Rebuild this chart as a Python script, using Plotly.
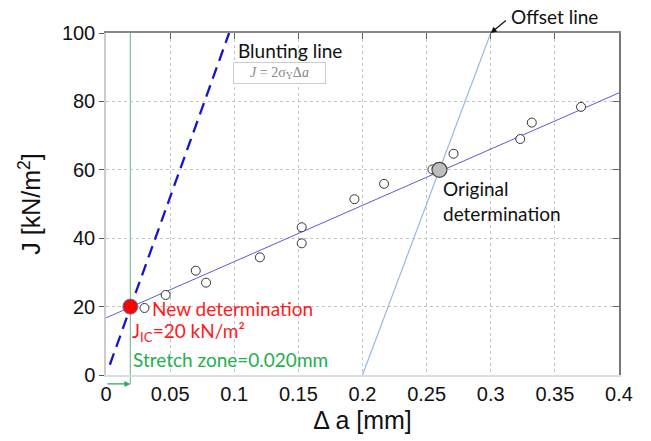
import plotly.graph_objects as go

# ---- data ----
da_pts = [0.030, 0.0465, 0.070, 0.078, 0.120, 0.1526, 0.1526, 0.1937, 0.2168, 0.2545, 0.271, 0.323, 0.332, 0.3704]
j_pts = [19.6, 23.4, 30.5, 27.0, 34.4, 43.2, 38.5, 51.4, 55.9, 60.1, 64.7, 69.0, 73.8, 78.4]

fit_x = [0.0, 0.4]
fit_y = [16.7, 82.5]

blunt_x = [0.003, 0.096]
blunt_y = [3.0, 100.0]

offset_x = [0.2, 0.3]
offset_y = [0.0, 100.0]

stretch_zone = 0.019
new_det = (0.019, 20.0)
orig_det = (0.26, 60.0)

x_ticks = [0, 0.05, 0.1, 0.15, 0.2, 0.25, 0.3, 0.35, 0.4]
x_tick_text = ["0", "0.05", "0.1", "0.15", "0.2", "0.25", "0.3", "0.35", "0.4"]
y_ticks = [0, 20, 40, 60, 80, 100]

FONT_TXT = "Lato, Carlito, 'Open Sans', sans-serif"
FONT_AX = "'Liberation Sans', Arial, sans-serif"

fig = go.Figure()

fig.add_trace(go.Scatter(x=blunt_x, y=blunt_y, mode="lines",
                         line=dict(color="#1515d0", width=2.3, dash="12px,7px"), hoverinfo="skip"))
fig.add_trace(go.Scatter(x=offset_x, y=offset_y, mode="lines",
                         line=dict(color="#95b8e0", width=1.2), hoverinfo="skip"))
fig.add_trace(go.Scatter(x=fit_x, y=fit_y, mode="lines",
                         line=dict(color="#5a5adc", width=1), hoverinfo="skip"))
fig.add_trace(go.Scatter(x=da_pts, y=j_pts, mode="markers",
                         marker=dict(size=9, color="white", line=dict(color="#333333", width=1))))
fig.add_trace(go.Scatter(x=[orig_det[0]], y=[orig_det[1]], mode="markers",
                         marker=dict(size=15, color="#bdbdbd", line=dict(color="#444444", width=1.2))))
fig.add_trace(go.Scatter(x=[new_det[0]], y=[new_det[1]], mode="markers",
                         marker=dict(size=15, color="#ff0000", line=dict(color="#5577aa", width=1))))
# invisible trace to activate the mirror axes
fig.add_trace(go.Scatter(x=[None], y=[None], xaxis="x2", yaxis="y2", showlegend=False))

# stretch zone vertical line
fig.add_shape(type="line", xref="x", yref="paper", x0=stretch_zone, x1=stretch_zone,
              y0=-0.028, y1=1, line=dict(color="#7fbf9a", width=1.2), layer="below")

annotations = [
    dict(x=stretch_zone, y=-0.026, xref="x", yref="paper", ax=0, ay=0, axref="x", ayref="pixel",
         text="", showarrow=True, arrowhead=2, arrowsize=1, arrowwidth=1.2, arrowcolor="#2fa85a"),
    dict(x=0.1015, y=94.9, xref="x", yref="y", text="Blunting line", showarrow=False,
         xanchor="left", yanchor="middle", font=dict(family=FONT_TXT, size=19, color="#111111")),
    dict(x=0.099, y=88.4, xref="x", yref="y",
         text="<i>J</i> = 2σ<sub>Y</sub>Δ<i>a</i>", showarrow=False,
         xanchor="left", yanchor="middle", font=dict(family="'Liberation Serif', serif", size=14, color="#888888"),
         bordercolor="#cccccc", borderwidth=1, borderpad=0, bgcolor="white", width=91, height=20),
    dict(x=0.3, y=100, xref="x", yref="y", ax=0.313, ay=104.0, axref="x", ayref="y",
         text="", showarrow=True, arrowhead=2, arrowsize=1, arrowwidth=1.2, arrowcolor="#111111"),
    dict(x=0.314, y=1.048, xref="x", yref="paper", text="Offset line", showarrow=False,
         xanchor="left", yanchor="middle", font=dict(family=FONT_TXT, size=19, color="#111111")),
    dict(x=0.261, y=54.4, xref="x", yref="y", text="Original", showarrow=False,
         xanchor="left", yanchor="middle", font=dict(family=FONT_TXT, size=19, color="#111111")),
    dict(x=0.261, y=47.2, xref="x", yref="y", text="determination", showarrow=False,
         xanchor="left", yanchor="middle", font=dict(family=FONT_TXT, size=19, color="#111111")),
    dict(x=0.034, y=19.5, xref="x", yref="y", text="New determination", showarrow=False,
         xanchor="left", yanchor="middle", font=dict(family=FONT_TXT, size=19, color="#ff1a1a")),
    dict(x=0.019, y=12.6, xref="x", yref="y", text="J<sub>IC</sub>=20 kN/m²", showarrow=False,
         xanchor="left", yanchor="middle", font=dict(family=FONT_TXT, size=19, color="#ff1a1a")),
    dict(x=0.0195, y=4.4, xref="x", yref="y", text="Stretch zone=0.020mm", showarrow=False,
         xanchor="left", yanchor="middle", font=dict(family=FONT_TXT, size=19, color="#22b050")),
]

fig.update_layout(
    width=651, height=441,
    margin=dict(l=106, r=32, t=33, b=66),
    paper_bgcolor="white", plot_bgcolor="white",
    showlegend=False,
    annotations=annotations,
    xaxis=dict(range=[0, 0.4], tickvals=x_ticks, ticktext=x_tick_text,
               showgrid=True, gridcolor="#c4c4c4", griddash="dot", gridwidth=1,
               showline=True, linecolor="#dddddd", linewidth=1.5, zeroline=False,
               ticks="", tickfont=dict(family=FONT_AX, size=20, color="#111111"),
               title=dict(text="Δ a [mm]", font=dict(family=FONT_AX, size=25, color="#111111"), standoff=8)),
    yaxis=dict(range=[0, 100], tickvals=y_ticks,
               showgrid=True, gridcolor="#c4c4c4", griddash="dot", gridwidth=1,
               showline=True, linecolor="#cccccc", linewidth=1.5, zeroline=False,
               ticks="outside", ticklen=5, tickcolor="#555555",
               tickfont=dict(family=FONT_AX, size=20, color="#111111"),
               title=dict(text="J [kN/m<sup>2</sup>]", font=dict(family=FONT_AX, size=25, color="#111111"), standoff=14)),
    xaxis2=dict(range=[0, 0.4], tickvals=x_ticks, overlaying="x", side="top", anchor="y",
                showgrid=False, showline=True, linecolor="#888888", linewidth=1.5, zeroline=False,
                ticks="inside", ticklen=6, tickcolor="#666666", showticklabels=False),
    yaxis2=dict(range=[0, 100], tickvals=y_ticks, overlaying="y", side="right", anchor="x",
                showgrid=False, showline=True, linecolor="#777777", linewidth=1.5, zeroline=False,
                ticks="inside", ticklen=6, tickcolor="#666666", showticklabels=False),
)

fig.write_html("out.html")
